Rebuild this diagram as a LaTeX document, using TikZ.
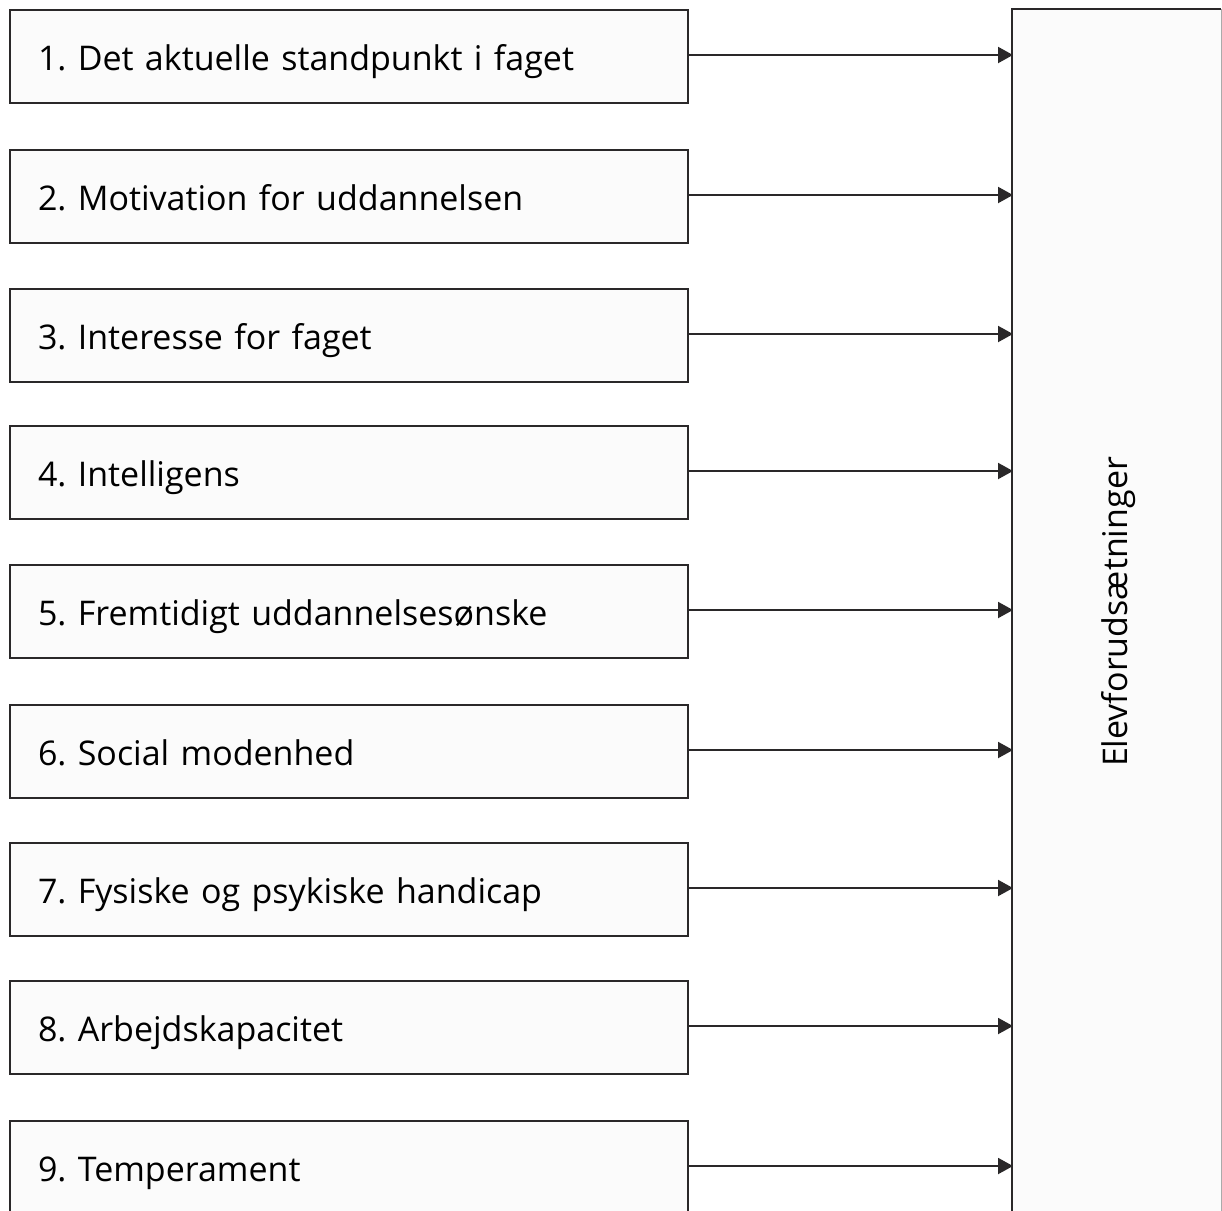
\documentclass[tikz,border=0pt]{standalone}
\usepackage{fontspec}
\setmainfont{Open Sans}
\frenchspacing
\usetikzlibrary{arrows.meta}
\definecolor{boxfill}{HTML}{FBFBFB}
\definecolor{boxline}{HTML}{2A2829}
\definecolor{edgegrey}{HTML}{AAAAAA}
\tikzset{
  itembox/.style={draw=boxline, line width=2pt, fill=boxfill, minimum width=678pt, minimum height=93pt,
    anchor=north west, inner sep=0pt, text width=650pt, text height=27pt, text depth=0pt, align=left,
    font=\fontsize{34}{36}\selectfont},
  conn/.style={draw=boxline, line width=2pt, -{Triangle[length=15pt,width=16pt]}, shorten >=-1pt},
}
\begin{document}
\begin{tikzpicture}[x=1pt,y=-1pt]
\useasboundingbox (0,0) rectangle (1222,1210);
\clip (0,0) rectangle (1222,1210);
% right box
\node[draw=none, fill=boxfill, minimum width=209pt, minimum height=1250pt, anchor=north west, inner sep=0pt] (E) at (1012,9) {};
\draw[edgegrey, line width=1.5pt] (E.north east) -- (E.south east);
\draw[boxline, line width=2pt] (E.south west) -- (E.north west) -- (E.north east);
\node[rotate=90, font=\fontsize{34}{36}\selectfont] (Et) at (1119,612) {Elevforudsætninger};
% items
\foreach \i/\y/\t in {1/9/{1. Det aktuelle standpunkt i faget},
                     2/149/{2. Motivation for uddannelsen},
                     3/288/{3. Interesse for faget},
                     4/425/{4. Intelligens},
                     5/564/{5. Fremtidigt uddannelsesønske},
                     6/704/{6. Social modenhed},
                     7/842/{7. Fysiske og psykiske handicap},
                     8/980/{8. Arbejdskapacitet},
                     9/1120/{9. Temperament}}{
  \node[itembox] (b\i) at (9,\y) {\hspace*{14pt}\t};
  \coordinate (t\i) at (E.west |- b\i.east);
  \draw[conn] ([yshift=1.5pt]b\i.east) -- ([yshift=1.5pt]t\i);
}
\end{tikzpicture}
\end{document}
